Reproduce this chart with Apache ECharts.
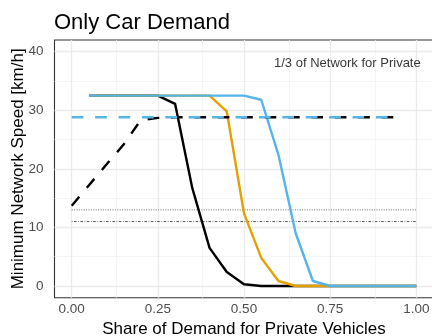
<!DOCTYPE html>
<html>
<head>
<meta charset="utf-8">
<script src="https://cdn.jsdelivr.net/npm/echarts@6/dist/echarts.min.js"></script>
<style>
  html, body { margin: 0; padding: 0; background: #ffffff; }
  #chart { width: 432px; height: 336px; }
</style>
</head>
<body>
<div id="chart"></div>
<script>
// Minimum network speed vs. share of demand for private vehicles
const titleText = 'Only Car Demand';
const xAxisTitle = 'Share of Demand for Private Vehicles';
const yAxisTitle = 'Minimum Network Speed [km/h]';
const noteText = '1/3 of Network for Private';
const notePos = [0.8, 38];

const xTicks = [0, 0.25, 0.5, 0.75, 1];
const xMinorGrid = [0.125, 0.375, 0.625, 0.875];
const yTicks = [0, 10, 20, 30, 40];
const yMinorGrid = [5, 15, 25, 35];

// solid curves, sampled at 0.05 .. 1.00
const shareSolid = [0.05, 0.10, 0.15, 0.20, 0.25, 0.30, 0.35, 0.40, 0.45, 0.50,
                    0.55, 0.60, 0.65, 0.70, 0.75, 0.80, 0.85, 0.90, 0.95, 1.00];
const speedBlack = [32.5, 32.5, 32.5, 32.5, 32.5, 31.1, 16.7, 6.5, 2.4, 0.3,
                    0, 0, 0, 0, 0, 0, 0, 0, 0, 0];
const speedOrange = [32.5, 32.5, 32.5, 32.5, 32.5, 32.5, 32.5, 32.5, 29.8, 12.4,
                     4.8, 0.85, 0, 0, 0, 0, 0, 0, 0, 0];
const speedBlue = [32.5, 32.5, 32.5, 32.5, 32.5, 32.5, 32.5, 32.5, 32.5, 32.5,
                   31.8, 22.4, 9.0, 0.85, 0, 0, 0, 0, 0, 0];

// dashed curves, sampled at 0.00 .. 0.95
const shareDashed = [0.00, 0.05, 0.10, 0.15, 0.20, 0.25, 0.30, 0.35, 0.40, 0.45,
                     0.50, 0.55, 0.60, 0.65, 0.70, 0.75, 0.80, 0.85, 0.90, 0.95];
const speedBlackDashed = [13.7, 17.2, 20.7, 24.1, 28.3, 28.7, 28.8, 28.8, 28.8, 28.8,
                          28.8, 28.8, 28.8, 28.8, 28.8, 28.8, 28.8, 28.8, 28.8, 28.8];
const speedBlueDashed = [28.8, 28.8, 28.8, 28.8, 28.8, 28.8, 28.8, 28.8, 28.8, 28.8,
                         28.8, 28.8, 28.8, 28.8, 28.8, 28.8, 28.8, 28.8, 28.8, 28.8];

// horizontal reference levels spanning the full share range
const refRange = [0, 1];
const refDotted = 13.0;
const refDotDash = 11.0;

const pair = (xs, ys) => xs.map((x, i) => [x, ys[i]]);
const FONT = '"Liberation Sans", Arial, Helvetica, sans-serif';

const gridLines = [].concat(
  xMinorGrid.map(v => ({ xAxis: v, lineStyle: { color: '#F2F2F2', width: 0.8, type: 'solid' } })),
  yMinorGrid.map(v => ({ yAxis: v, lineStyle: { color: '#F2F2F2', width: 0.8, type: 'solid' } })),
  xTicks.map(v => ({ xAxis: v, lineStyle: { color: '#EBEBEB', width: 1.3, type: 'solid' } })),
  yTicks.map(v => ({ yAxis: v, lineStyle: { color: '#EBEBEB', width: 1.3, type: 'solid' } }))
);

function curve(name, xs, ys, color, dashed) {
  return {
    name, type: 'line', data: pair(xs, ys), z: 10,
    symbol: 'none', silent: true, animation: false,
    lineStyle: { color, width: 2.4, type: dashed ? [11.7, 11.7] : 'solid', cap: 'butt', join: 'round' }
  };
}

const chart = echarts.init(document.getElementById('chart'), null, { renderer: 'canvas' });
chart.setOption({
  animation: false,
  backgroundColor: '#ffffff',
  title: {
    text: titleText, left: 49, top: 7,
    textStyle: { fontFamily: FONT, fontSize: 22, fontWeight: 'normal', color: '#000000' }
  },
  grid: {
    left: 54.5, top: 40, width: 379, height: 257.7,
    outerBoundsMode: 'none', containLabel: false,
    show: true, borderColor: '#333333', borderWidth: 1.1, backgroundColor: '#ffffff'
  },
  xAxis: {
    type: 'value', min: -0.05, max: 1.05,
    name: xAxisTitle, nameLocation: 'middle', nameGap: 23, nameMoveOverlap: false,
    nameTextStyle: { fontFamily: FONT, fontSize: 17, color: '#000000' },
    axisLine: { show: false },
    splitLine: { show: false },
    axisTick: { show: true, customValues: xTicks, length: 4, lineStyle: { color: '#333333', width: 1 } },
    axisLabel: {
      customValues: xTicks, margin: 5,
      formatter: v => v.toFixed(2),
      fontFamily: FONT, fontSize: 13.5, color: '#4D4D4D'
    }
  },
  yAxis: {
    type: 'value', min: -2, max: 42,
    name: yAxisTitle, nameLocation: 'middle', nameGap: 28, nameMoveOverlap: false,
    nameTextStyle: { fontFamily: FONT, fontSize: 17, color: '#000000' },
    axisLine: { show: false },
    splitLine: { show: false },
    axisTick: { show: true, customValues: yTicks, length: 4, lineStyle: { color: '#333333', width: 1 } },
    axisLabel: {
      customValues: yTicks, margin: 11,
      fontFamily: FONT, fontSize: 13.5, color: '#4D4D4D'
    }
  },
  series: [
    {
      name: 'grid', type: 'line', data: [], silent: true, z: 1,
      markLine: { silent: true, z: 1, symbol: ['none', 'none'], label: { show: false }, animation: false, data: gridLines }
    },
    {
      name: 'dotted reference', type: 'line', symbol: 'none', silent: true, z: 5,
      data: pair(refRange, [refDotted, refDotted]),
      lineStyle: { color: '#707070', width: 1, type: [1, 1.4] }
    },
    {
      name: 'dot-dash reference', type: 'line', symbol: 'none', silent: true, z: 5,
      data: pair(refRange, [refDotDash, refDotDash]),
      lineStyle: { color: '#555555', width: 1, type: [0.8, 1.5, 2.6, 1.5] }
    },
    curve('black', shareSolid, speedBlack, '#000000', false),
    curve('orange', shareSolid, speedOrange, '#E69F00', false),
    curve('blue', shareSolid, speedBlue, '#56B4E9', false),
    curve('black dashed', shareDashed, speedBlackDashed, '#000000', true),
    curve('blue dashed', shareDashed, speedBlueDashed, '#56B4E9', true),
    {
      name: 'note', type: 'scatter', symbolSize: 0, silent: true, z: 10,
      data: [notePos],
      label: {
        show: true, position: 'inside', formatter: noteText,
        fontFamily: FONT, fontSize: 13, color: '#000000'
      }
    }
  ]
});
</script>
</body>
</html>
